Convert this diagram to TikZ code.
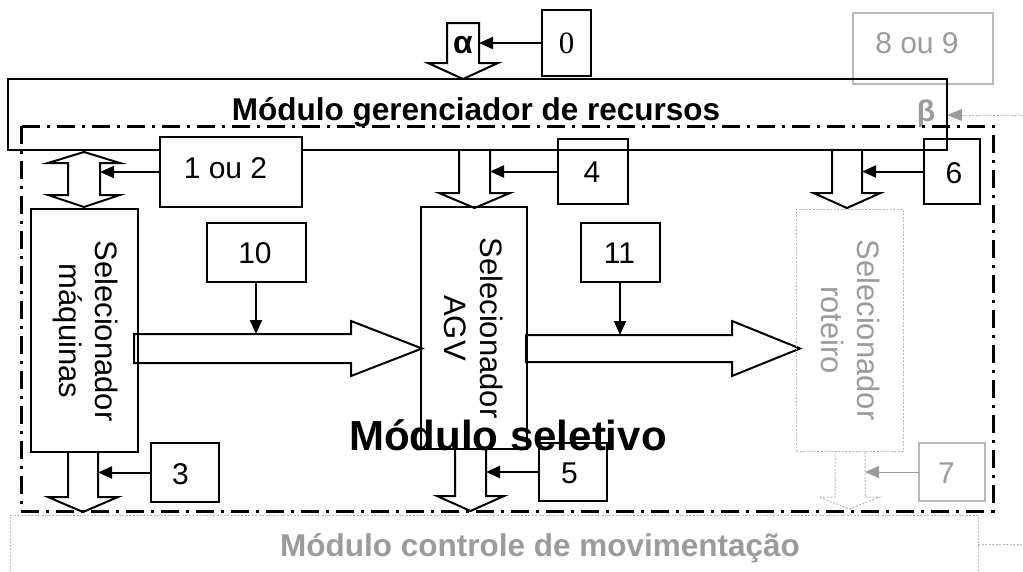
\documentclass[tikz,border=0pt]{standalone}
\usepackage{fontspec}
\setmainfont{Liberation Sans}
\newfontfamily\seriffont{Liberation Serif}
\usetikzlibrary{arrows.meta}
\definecolor{lgray}{RGB}{155,155,155}
\definecolor{lline}{RGB}{185,185,185}
\newcommand{\HDn}[6]{\draw[harrow] (#1-#5,#2) -- (#1-#5,#3) -- (#1-#6,#3) -- (#1,#4) -- (#1+#6,#3) -- (#1+#5,#3) -- (#1+#5,#2);}
\begin{document}
\begin{tikzpicture}[x=1pt,y=-1pt,
  box/.style={draw, line width=2pt, inner sep=0pt, outer sep=0pt},
  gbox/.style={draw=lline, line width=1.2pt, inner sep=0pt, outer sep=0pt},
  gdot/.style={draw=lline, line width=1pt, dash pattern=on 2pt off 1.5pt},
  harrow/.style={draw, line width=2pt, line join=miter},
  conn/.style={draw, line width=2pt, -{Triangle[length=14pt,width=12pt]}},
  gconn/.style={draw=lgray, line width=1pt, -{Triangle[length=14pt,width=12pt]}},
  txt/.style={inner sep=0pt, anchor=base, font=\fontsize{30}{36}\selectfont},
  rtxt/.style={inner sep=0pt, rotate=-90, align=center, font=\fontsize{31}{36}\selectfont},
  dashdot/.style={draw, line width=3pt, dash pattern=on 18pt off 7pt on 3pt off 7pt}
]
\useasboundingbox (0,0) rectangle (1023,571);
\fill[white] (0,0) rectangle (1023,571);

% gray boxes behind
\node[gbox, minimum width=140, minimum height=71] (b89) at (923,48.5) {};
\node[txt, text=lgray] (t89) at (917,53) {8 ou 9};

% bottom module (gray dotted)
\draw[gdot] (10,571) -- (10,515) -- (978,515) -- (978,571);
\coordinate (movr) at (978,544);
\coordinate (movout) at (1023,544);
\draw[gdot] (movr) -- (movout);
\node[inner sep=0pt, anchor=base, text=lgray, font=\bfseries\fontsize{31.5}{38}\selectfont] (tmov) at (540,556) {Módulo controle de movimentação};

% top module
\node[box, minimum width=939, minimum height=71] (gr) at (477.5,114.5) {};
\node[inner sep=0pt, anchor=base, font=\bfseries\fontsize{31.5}{38}\selectfont] (tgr) at (476,120) {Módulo gerenciador de recursos};
\node[inner sep=0pt, anchor=base, text=lgray, font=\bfseries\fontsize{30}{36}\selectfont] (tbeta) at (926,121) {β};
\coordinate (betain) at (1023,115);
\coordinate (betatip) at (947,115);
\draw[gdot] (betain) -- (962,115);
\draw[gconn, draw=none] (962,115) -- (betatip);
\fill[lgray] (947,115) -- (962,109) -- (962,121) -- cycle;

% selective module dash-dot frame
\draw[dashdot] (21,126) rectangle (993,511);

% alpha arrow
\draw[harrow] (447,23) -- (447,63) -- (428,63) -- (463,79) -- (498,63) -- (479,63) -- (479,23) -- cycle;
\node[inner sep=0pt, anchor=base, font=\bfseries\fontsize{32}{38}\selectfont] (talpha) at (463,53) {α};
\node[box, minimum width=49, minimum height=66] (b0) at (566.5,43) {};
\node[txt, font=\seriffont\fontsize{31}{36}\selectfont] (t0) at (566.5,53) {0};
\coordinate (s0) at (479,43);
\draw[conn] (b0.west) -- (s0);

% double arrow left
\draw[harrow] (68,163) -- (48,163) -- (84,152) -- (120,163) -- (100,163) -- (100,195) -- (120,195) -- (84,207) -- (48,195) -- (68,195) -- cycle;
\node[box, fill=white, minimum width=142, minimum height=70] (b12) at (231,172) {};
\node[txt] (t12) at (225.5,178) {1 ou 2};
\coordinate (s12) at (100,172);
\draw[conn] (b12.west) -- (s12);

% selecionador maquinas
\node[box, minimum width=107, minimum height=243] (maq) at (84.5,330.5) {};
\node[rtxt] (tmaq) at (86,331) {Selecionador\\máquinas};
\HDn{83}{452}{497}{512}{15}{35}
\node[box, minimum width=68, minimum height=59] (b3) at (185,472.5) {};
\node[txt] (t3) at (180.5,484) {3};
\coordinate (s3) at (98,472.5);
\draw[conn] (b3.west) -- (s3);

% arrow maquinas -> AGV
\draw[harrow] (134,334) -- (351,334) -- (351,321) -- (422,348.5) -- (351,376) -- (351,363) -- (134,363) -- cycle;
\node[box, minimum width=99, minimum height=59] (b10) at (256,252.5) {};
\node[txt] (t10) at (255,263) {10};
\coordinate (s10) at (256,334);
\draw[conn] (b10.south) -- (s10);

% AGV
\HDn{474.5}{150}{193}{208}{15.5}{35.5}
\node[box, minimum width=70, minimum height=65] (b4) at (593,171.5) {};
\node[txt] (t4) at (592,182) {4};
\coordinate (s4) at (490,171.5);
\draw[conn] (b4.west) -- (s4);
\node[box, minimum width=106, minimum height=242] (agv) at (474,328) {};
\node[rtxt] (tagv) at (474,328) {Selecionador\\AGV};
\HDn{470.5}{449}{496}{511}{15.5}{33.5}
\node[box, minimum width=68, minimum height=58] (b5) at (573,472) {};
\node[txt] (t5) at (569.5,483) {5};
\coordinate (s5) at (486,472);
\draw[conn] (b5.west) -- (s5);

% arrow AGV -> roteiro
\draw[harrow] (526,335) -- (732,335) -- (732,321) -- (800,348.5) -- (732,376) -- (732,362) -- (526,362) -- cycle;
\node[box, minimum width=79, minimum height=59] (b11) at (620,252.5) {};
\node[txt] (t11) at (619.5,263) {11};
\coordinate (s11) at (620,335);
\draw[conn] (b11.south) -- (s11);

% roteiro
\HDn{847}{150}{193}{208}{15}{33.5}
\node[box, minimum width=56, minimum height=65] (b6) at (952,171.5) {};
\node[txt] (t6) at (954,183) {6};
\coordinate (s6) at (862,171.5);
\draw[conn] (b6.west) -- (s6);
\node[gbox, dash pattern=on 2pt off 1.5pt, line width=1pt, minimum width=107, minimum height=242] (rot) at (849.5,330) {};
\node[rtxt, text=lgray] (trot) at (851,330) {Selecionador\\roteiro};
\draw[gdot] (835,451) -- (835,497) -- (819,497) -- (849.5,509) -- (880,497) -- (865,497) -- (865,451);
\node[gbox, minimum width=66, minimum height=58] (b7) at (952,472) {};
\node[txt, text=lgray] (t7) at (946.5,483) {7};
\coordinate (s7) at (865,472);
\draw[gconn] (b7.west) -- (s7);

% Modulo seletivo label
\node[inner sep=0pt, anchor=base, font=\bfseries\fontsize{42}{50}\selectfont] (tsel) at (508,450) {Módulo seletivo};
\end{tikzpicture}
\end{document}
